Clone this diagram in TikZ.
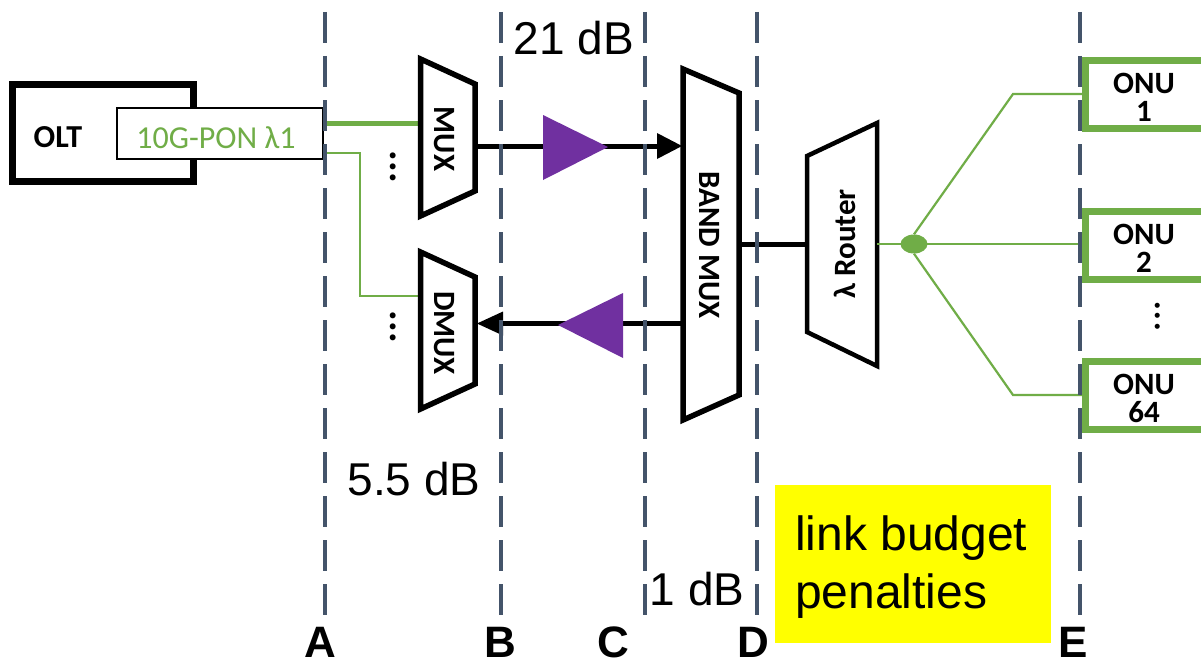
\documentclass[tikz,border=0pt]{standalone}
\usepackage{fontspec}
\setmainfont{Liberation Sans}
\newfontfamily\calfont{Carlito}
\usetikzlibrary{shapes.geometric}
\definecolor{grn}{HTML}{70AD47}
\definecolor{slate}{HTML}{44546A}
\definecolor{purp}{HTML}{7030A0}
\definecolor{hilite}{RGB}{255,255,0}
\newcommand{\fs}[1]{\fontsize{#1}{#1}\selectfont}
\tikzset{
 x=1pt,y=-1pt,
 device/.style={draw=black,line width=5.5pt,fill=white,miter limit=10},
 devlabel/.style={font=\calfont\bfseries\fs{31},rotate=-90,inner sep=0pt},
 wire/.style={draw=black,line width=5pt},
 thin green/.style={draw=grn,line width=2.2pt},
 amp/.style={fill=purp,draw=none},
 guide/.style={draw=slate,line width=4pt,dash pattern=on 31pt off 13pt},
 onubox/.style={draw=grn,line width=7.5pt,miter limit=10},
 onutext/.style={font=\calfont\bfseries\fontsize{31}{28}\selectfont,inner sep=0pt,align=center},
 bud/.style={font=\fs{46},inner sep=0pt,anchor=base},
 tick/.style={font=\bfseries\fs{44},inner sep=0pt,anchor=base},
 vdots/.style={font=\calfont\bfseries\fs{40},rotate=-90,inner sep=0pt},
}
\begin{document}
\begin{tikzpicture}
\useasboundingbox (0,0) rectangle (1201,661);
\fill[white] (0,0) rectangle (1201,661);
% yellow
\fill[hilite] (775,485) rectangle (1051,643);
\node[font=\fs{48},anchor=base west,inner sep=0pt] (lb1) at (795,550) {link budget};
\node[font=\fs{48},anchor=base west,inner sep=0pt] (lb2) at (795,608) {penalties};
% OLT
\node[draw=black,line width=6.5pt,minimum width=181pt,minimum height=97pt,inner sep=0pt] (olt) at (103,133) {};
\node[font=\calfont\bfseries\fs{32},inner sep=0pt] (oltt) at (58,137) {OLT};
\node[draw=black,line width=2pt,fill=white,minimum width=206pt,minimum height=51pt,inner sep=0pt] (pon) at (220,133.5) {};
\node[text=grn,font=\calfont\fs{32},inner sep=0pt] (ponl) at (216,138) {10G-PON λ1};
% anchors
\coordinate (ponA) at (325,123);
\coordinate (ponB) at (325,153);
\coordinate (muxIn) at (420,123);
\coordinate (dmuxOut) at (420,296);
\coordinate (muxOut) at (475,146);
\coordinate (bandIn) at (682,146);
\coordinate (bandOut) at (683,323.5);
\coordinate (dmuxIn) at (477,323.5);
\coordinate (bandR) at (739,244);
\coordinate (routL) at (807,244);
\coordinate (routR) at (877,244);
\coordinate (e1) at (1013,94);
\coordinate (e3) at (1013,395);
\coordinate (o1) at (1083,94);
\coordinate (o2) at (1083,244);
\coordinate (o3) at (1083,395);
% wires
\draw[draw=grn,line width=5pt] (ponA) -- (muxIn);
\draw[thin green] (ponB) -| (360,296) -- (dmuxOut);
\draw[wire] (muxOut) -- (660,146);
\draw[wire] (bandOut) -- (500,323.5);
\draw[wire] (bandR) -- (routL);
\fill[black] (bandIn) -- (657,133) -- (657,159) -- cycle;
\fill[black] (dmuxIn) -- (503,311.5) -- (503,335.5) -- cycle;
\fill[amp] (543,115) -- (608,147) -- (543,180) -- cycle;
\fill[amp] (623,293) -- (558,325) -- (623,358) -- cycle;
% devices
\draw[device] (420.5,59) -- (475,84) -- (475,191) -- (420.5,216) -- cycle;
\node[devlabel] (muxl) at (444,139) {MUX};
\draw[device] (420.5,252) -- (475,277) -- (475,384) -- (420.5,409) -- cycle;
\node[devlabel] (dmuxl) at (444,333) {DMUX};
\draw[device] (683,69) -- (739,93) -- (739,395) -- (683,420) -- cycle;
\node[devlabel] (bandl) at (709,245) {BAND MUX};
\draw[device,line width=4.5pt] (807,156) -- (877,123) -- (877,366) -- (807,332) -- cycle;
\node[devlabel,rotate=180] (routl) at (845,244) {λ Router};
% tree
\draw[thin green] (routR) -- (o2);
\node[fill=grn,ellipse,minimum width=27pt,minimum height=19pt,inner sep=0pt] (sp) at (914,244) {};
\draw[thin green] (sp.north) -- (e1) -- (o1);
\draw[thin green] (sp.south) -- (e3) -- (o3);
% ONU
\foreach \yy/\lab/\nm in {60.5/1/a,211.5/2/b,361.5/64/c}{
 \draw[onubox] (1203,\yy) -- (1085.5,\yy) -- (1085.5,\yy+68) -- (1203,\yy+68);
 \node[onutext] (onu\nm) at (1144,\yy+36.5) {ONU\\\lab};
}
% dots
\node[vdots] (d1) at (393,167) {...};
\node[vdots] (d2) at (393,327) {...};
\node[vdots,font=\calfont\fs{42}] (d3) at (1158,316) {...};
% guides
\foreach \xx/\nm in {325/a,501/b,645/c,757/d,1080/e}{
 \coordinate (gt\nm) at (\xx,12);
 \coordinate (gb\nm) at (\xx,616);
 \draw[guide] (gt\nm) -- (gb\nm);
}
% labels
\node[bud] (l21) at (574,55) {21 dB};
\node[bud] (l55) at (414,495) {5.5 dB};
\node[bud] (l1) at (697,605) {1 dB};
\node[tick] (ta) at (320,657) {A};
\node[tick] (tb) at (500,657) {B};
\node[tick] (tc) at (613,657) {C};
\node[tick] (td) at (753,657) {D};
\node[tick] (te) at (1073,657) {E};
\end{tikzpicture}
\end{document}
